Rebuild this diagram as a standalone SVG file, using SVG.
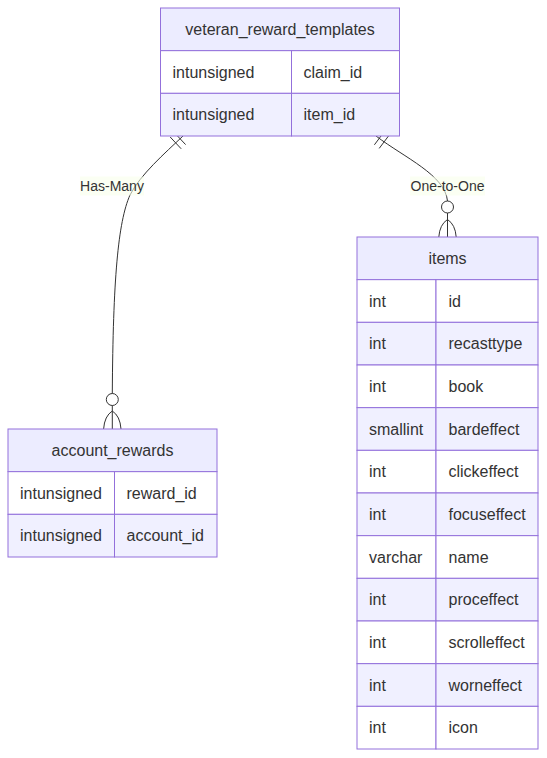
<svg xmlns="http://www.w3.org/2000/svg" width="547" height="758" viewBox="0 0 547 758">
<style>
.hd{fill:#ececff;stroke:#9370db;stroke-width:1}
.ro{fill:#ffffff;stroke:#9370db;stroke-width:1}
.re{fill:#f0f0ff;stroke:#9370db;stroke-width:1}
.t{font-family:"Liberation Sans",Arial,sans-serif;font-size:16px;fill:#333333;dominant-baseline:central}
.c{text-anchor:middle}
.ln{fill:none;stroke:#333333;stroke-width:1}
.lb{fill:hsl(80,100%,96%);opacity:0.6}
.lt{font-family:"Liberation Sans",Arial,sans-serif;font-size:14px;fill:#333333;text-anchor:middle;dominant-baseline:central}
</style>
<rect width="547" height="758" fill="#ffffff"/>
<g id="connectors">
  <g id="edge-has-many">
    <path class="ln" d="M183,136 C165,153 140,175 130,195 C118,222 113,280 112.3,393.5"/>
    <path class="ln" d="M174.6,132.9 L185.6,144.6 M170.2,137 L181.2,148.8"/>
    <circle class="ln" cx="112.3" cy="399.5" r="6"/>
    <path class="ln" d="M112.3,405.5 L112.3,429 M112.3,411 Q104.5,416 103.6,429 M112.3,411 Q120.1,416 121,429"/>
    <rect class="lb" x="80" y="176.5" width="64" height="19"/>
    <text class="lt" x="112" y="186">Has-Many</text>
  </g>
  <g id="edge-one-to-one">
    <path class="ln" d="M376,136 C405,158 445,175 447.5,201"/>
    <path class="ln" d="M374.4,144.8 L384,132 M379.2,148.4 L388.8,135.6"/>
    <circle class="ln" cx="447.5" cy="207" r="6"/>
    <path class="ln" d="M447.5,213 L447.5,237 M447.5,219.5 Q439.7,224.5 438.8,237 M447.5,219.5 Q455.3,224.5 456.2,237"/>
    <rect class="lb" x="410" y="176.5" width="75" height="19"/>
    <text class="lt" x="447.5" y="186">One-to-One</text>
  </g>
</g>
<g id="veteran_reward_templates">
  <rect class="hd" x="160.5" y="8" width="239" height="42.67"/>
  <rect class="ro" x="160.5" y="50.67" width="131" height="42.67"/>
  <rect class="ro" x="291.5" y="50.67" width="108" height="42.67"/>
  <rect class="re" x="160.5" y="93.33" width="131" height="42.67"/>
  <rect class="re" x="291.5" y="93.33" width="108" height="42.67"/>
  <text class="t c" x="280" y="29.3">veteran_reward_templates</text>
  <text class="t" x="172.5" y="72">intunsigned</text>
  <text class="t" x="303.5" y="72">claim_id</text>
  <text class="t" x="172.5" y="114.7">intunsigned</text>
  <text class="t" x="303.5" y="114.7">item_id</text>
</g>
<g id="account_rewards">
  <rect class="hd" x="8" y="429" width="209" height="42.67"/>
  <rect class="ro" x="8" y="471.67" width="106.5" height="42.67"/>
  <rect class="ro" x="114.5" y="471.67" width="102.5" height="42.67"/>
  <rect class="re" x="8" y="514.33" width="106.5" height="42.67"/>
  <rect class="re" x="114.5" y="514.33" width="102.5" height="42.67"/>
  <text class="t c" x="112.5" y="450.3">account_rewards</text>
  <text class="t" x="20" y="493">intunsigned</text>
  <text class="t" x="126.5" y="493">reward_id</text>
  <text class="t" x="20" y="535.7">intunsigned</text>
  <text class="t" x="126.5" y="535.7">account_id</text>
</g>
<g id="items">
  <rect class="hd" x="357" y="237" width="181" height="42.67"/>
  <rect class="ro" x="357" y="279.67" width="79" height="42.67"/><rect class="ro" x="436" y="279.67" width="102" height="42.67"/>
  <rect class="re" x="357" y="322.33" width="79" height="42.67"/><rect class="re" x="436" y="322.33" width="102" height="42.67"/>
  <rect class="ro" x="357" y="365" width="79" height="42.67"/><rect class="ro" x="436" y="365" width="102" height="42.67"/>
  <rect class="re" x="357" y="407.67" width="79" height="42.67"/><rect class="re" x="436" y="407.67" width="102" height="42.67"/>
  <rect class="ro" x="357" y="450.33" width="79" height="42.67"/><rect class="ro" x="436" y="450.33" width="102" height="42.67"/>
  <rect class="re" x="357" y="493" width="79" height="42.67"/><rect class="re" x="436" y="493" width="102" height="42.67"/>
  <rect class="ro" x="357" y="535.67" width="79" height="42.67"/><rect class="ro" x="436" y="535.67" width="102" height="42.67"/>
  <rect class="re" x="357" y="578.33" width="79" height="42.67"/><rect class="re" x="436" y="578.33" width="102" height="42.67"/>
  <rect class="ro" x="357" y="621" width="79" height="42.67"/><rect class="ro" x="436" y="621" width="102" height="42.67"/>
  <rect class="re" x="357" y="663.67" width="79" height="42.67"/><rect class="re" x="436" y="663.67" width="102" height="42.67"/>
  <rect class="ro" x="357" y="706.33" width="79" height="42.67"/><rect class="ro" x="436" y="706.33" width="102" height="42.67"/>
  <text class="t c" x="447.5" y="258.3">items</text>
  <text class="t" x="369" y="301">int</text><text class="t" x="448.5" y="301">id</text>
  <text class="t" x="369" y="343.7">int</text><text class="t" x="448.5" y="343.7">recasttype</text>
  <text class="t" x="369" y="386.3">int</text><text class="t" x="448.5" y="386.3">book</text>
  <text class="t" x="369" y="429">smallint</text><text class="t" x="448.5" y="429">bardeffect</text>
  <text class="t" x="369" y="471.7">int</text><text class="t" x="448.5" y="471.7">clickeffect</text>
  <text class="t" x="369" y="514.3">int</text><text class="t" x="448.5" y="514.3">focuseffect</text>
  <text class="t" x="369" y="557">varchar</text><text class="t" x="448.5" y="557">name</text>
  <text class="t" x="369" y="599.7">int</text><text class="t" x="448.5" y="599.7">proceffect</text>
  <text class="t" x="369" y="642.3">int</text><text class="t" x="448.5" y="642.3">scrolleffect</text>
  <text class="t" x="369" y="685">int</text><text class="t" x="448.5" y="685">worneffect</text>
  <text class="t" x="369" y="727.7">int</text><text class="t" x="448.5" y="727.7">icon</text>
</g>
</svg>
